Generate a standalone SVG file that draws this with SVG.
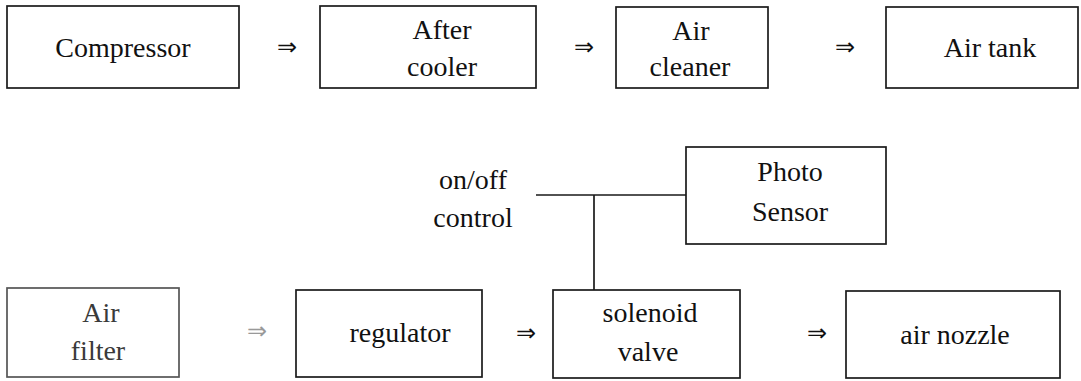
<svg xmlns="http://www.w3.org/2000/svg" width="1081" height="381" viewBox="0 0 1081 381">
<style>
.box{fill:none;stroke:#1a1a1a;stroke-width:1.7}
.t{font-family:"Liberation Serif","DejaVu Serif",serif;font-size:28px;fill:#111;text-anchor:middle}
.ar{font-family:"DejaVu Sans",sans-serif;font-size:24px;fill:#111;text-anchor:middle}
.faint{stroke:#555}
.ft{fill:#3a3a3a}
.fa{fill:#999}
.ln{stroke:#1a1a1a;stroke-width:1.7;fill:none}
</style>
<rect width="1081" height="381" fill="#fff"/>
<g id="compressor"><rect class="box" x="7" y="6" width="232" height="82"/><text class="t" x="123" y="57">Compressor</text></g>
<g id="aftercooler"><rect class="box" x="320" y="6" width="216" height="82"/><text class="t" x="442" y="39">After</text><text class="t" x="442" y="76">cooler</text></g>
<g id="aircleaner"><rect class="box" x="616" y="7" width="152" height="81"/><text class="t" x="691" y="40">Air</text><text class="t" x="690" y="76">cleaner</text></g>
<g id="airtank"><rect class="box" x="886" y="7" width="192" height="81"/><text class="t" x="990" y="57">Air  tank</text></g>
<g id="photosensor"><rect class="box" x="686" y="147" width="200" height="97"/><text class="t" x="790" y="181">Photo</text><text class="t" x="790" y="221">Sensor</text></g>
<g id="onoff"><text class="t" x="473" y="189">on/off</text><text class="t" x="473" y="227">control</text></g>
<g id="airfilter"><rect class="box faint" x="7" y="288" width="172" height="89"/><text class="t ft" x="101" y="322">Air</text><text class="t ft" x="98" y="360">filter</text></g>
<g id="regulator"><rect class="box" x="296" y="290" width="186" height="87"/><text class="t" x="400" y="342">regulator</text></g>
<g id="solenoid"><rect class="box" x="553" y="290" width="187" height="88"/><text class="t" x="650" y="322">solenoid</text><text class="t" x="648" y="361">valve</text></g>
<g id="airnozzle"><rect class="box" x="846" y="291" width="214" height="87"/><text class="t" x="955" y="344">air  nozzle</text></g>
<g id="connectors">
<text class="ar" x="287" y="55">⇒</text>
<text class="ar" x="584" y="55">⇒</text>
<text class="ar" x="845" y="55">⇒</text>
<text class="ar fa" x="257" y="339">⇒</text>
<text class="ar" x="526" y="341">⇒</text>
<text class="ar" x="817" y="341">⇒</text>
<path class="ln" d="M536 195H686M594 195V290"/>
</g>
</svg>
